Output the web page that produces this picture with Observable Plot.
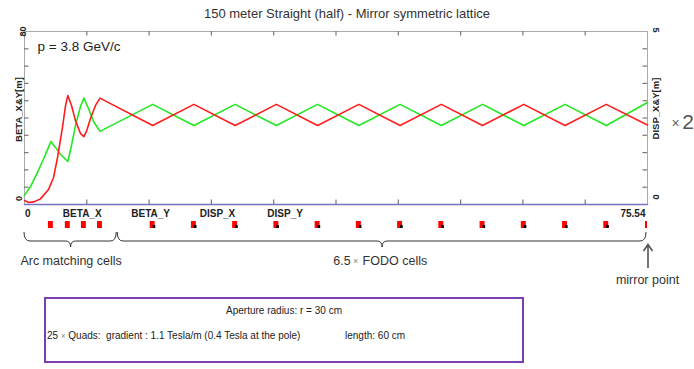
<!DOCTYPE html>
<html><head><meta charset="utf-8">
<script src="https://cdn.jsdelivr.net/npm/d3@7"></script>
<script src="https://cdn.jsdelivr.net/npm/@observablehq/plot@0.6"></script>
<style>
body{margin:0;background:#fff;width:694px;height:369px;position:relative;overflow:hidden;font-family:"Liberation Sans",Arial,sans-serif;}
#title{position:absolute;left:0;top:6px;width:694px;text-align:center;font-size:13px;line-height:16px;color:#333;}
#chart{position:absolute;left:0;top:24px;}
#box{position:absolute;left:44px;top:297px;width:476px;height:62px;border:2px solid #7b3fb2;font-family:"Liberation Sans Narrow","Arial Narrow","Liberation Sans",sans-serif;font-size:11.5px;color:#222;}
#box span.t{position:absolute;white-space:nowrap;line-height:14px;transform:scaleX(0.87);transform-origin:0 0;}
#box span.c{transform-origin:50% 0;}
.sm{color:#888;font-size:9px;}
</style></head>
<body>
<div id="title">150 meter Straight (half) - Mirror symmetric lattice</div>
<div id="chart"></div>
<div id="box">
  <span class="t c" style="left:0;width:476px;text-align:center;top:4px;">Aperture radius: r = 30 cm</span>
  <span class="t" style="left:1px;top:29px;">25 <span class="sm">×</span> Quads:&nbsp; gradient : 1.1 Tesla/m (0.4 Tesla at the pole)</span>
  <span class="t" style="left:299px;top:29px;">length: 60 cm</span>
</div>
<script>
// ---- data ----
const sMax = 75.54;           // lattice length [m]
const betaMax = 80;           // left axis max [m]
const dispMax = 5;            // right axis max [m]
const momentum = "p = 3.8 GeV/c";

// red optics function
const sRed =    [0, 0.49, 1.09, 1.94, 2.91, 3.52, 4.00, 4.61, 4.97, 5.25, 5.70, 6.18, 6.79, 7.20, 7.55, 8.00, 8.61, 9.15,
                 15.54, 20.54, 25.54, 30.54, 35.54, 40.54, 45.54, 50.54, 55.54, 60.54, 65.54, 70.54, 75.54];
const betaRed = [1.85, 0.9, 1.2, 2.6, 6.9, 12.5, 21.7, 35.8, 45.6, 50.4, 45.8, 38.8, 32.8, 31.4, 34.2, 39.8, 45.8, 49.2,
                 36.5, 46.3, 36.5, 46.3, 36.5, 46.3, 36.5, 46.3, 36.5, 46.3, 36.5, 46.3, 36.8];
// green optics function
const sGreen =    [0, 0.73, 1.46, 2.18, 2.79, 3.20, 3.76, 4.37, 5.25, 5.62, 6.18, 6.79, 7.20, 7.76, 8.37, 9.15,
                   15.54, 20.54, 25.54, 30.54, 35.54, 40.54, 45.54, 50.54, 55.54, 60.54, 65.54, 70.54, 75.54];
const betaGreen = [4.2, 8.3, 13.9, 19.9, 25.4, 29.1, 26.4, 23.1, 19.9, 25.9, 36.5, 45.3, 49.2, 44.4, 38.4, 33.8,
                   46.3, 36.5, 46.3, 36.5, 46.3, 36.5, 46.3, 36.5, 46.3, 36.5, 46.3, 36.5, 47.2];
// dispersion (zero along the straight)
const sDisp = [0, sMax];
const dispValues = [0, 0];

// quadrupoles
const arcQuadS = [3.2, 5.25, 7.2, 9.15];
const fodoQuadS = [15.54, 20.54, 25.54, 30.54, 35.54, 40.54, 45.54, 50.54, 55.54, 60.54, 65.54, 70.54, 75.54];
const quadLength = 0.6;

// legend labels under the axis
const legendNames = ["BETA_X", "BETA_Y", "DISP_X", "DISP_Y"];
const legendS = [7.0, 15.3, 23.4, 31.6];

// section braces
const sectionNames = ["Arc matching cells", "6.5", "×", "FODO cells"];
const sectionStart = [0, 11.3];
const sectionEnd = [11.3, sMax];
const mirrorLabel = "mirror point";

const axisTitleLeft = "BETA_X&Y[m]";
const axisTitleRight = "DISP_X&Y[m]";
const scaleNote = ["×", "2"];

// ---- build ----
const red = sRed.map((s, i) => ({s, v: betaRed[i]}));
const green = sGreen.map((s, i) => ({s, v: betaGreen[i]}));
const disp = sDisp.map((s, i) => ({s, v: dispValues[i] * betaMax / dispMax}));
const xTicks = d3.range(1, 10).map(i => i * sMax / 10);
const yTicks = d3.range(1, 10).map(i => i * betaMax / 10);
const tickLenY = betaMax * 0.026;   // inward tick length in y units
const tickLenX = sMax * 0.0072;     // inward tick length in x units
const quads = [
  ...arcQuadS.map(s => ({s, kind: "arc"})),
  ...fodoQuadS.map(s => ({s, kind: s >= sMax ? "half" : "fodo"}))
];
const sections = [0, 1].map(i => ({s0: sectionStart[i], s1: sectionEnd[i], mid: (sectionStart[i] + sectionEnd[i]) / 2}));

function quadMark(index, scales, values, dims) {
  const x = scales.x;
  const yb = dims.height - dims.marginBottom;
  const g = d3.create("svg:g");
  for (const q of quads) {
    const x0 = x(q.s - quadLength / 2), x1 = x(Math.min(q.s + quadLength / 2, sMax));
    const w = q.kind === "half" ? Math.max(2, (x1 - x0) / 2) : x1 - x0;
    const left = q.kind === "half" ? x(sMax) - w : x0;
    g.append("rect").attr("x", left).attr("y", yb + 17).attr("width", w).attr("height", 7).attr("fill", "#ff0000");
    if (q.kind === "fodo") g.append("rect").attr("x", x1 - 2).attr("y", yb + 21).attr("width", 2.6).attr("height", 3).attr("fill", "#000");
  }
  return g.node();
}
function braceMark(index, scales, values, dims) {
  const x = scales.x;
  const yb = dims.height - dims.marginBottom;
  const g = d3.create("svg:g").attr("fill", "none").attr("stroke", "#333").attr("stroke-width", 1);
  const yE = yb + 28, yL = yb + 37, yT = yb + 43;
  for (const sec of sections) {
    const a = x(sec.s0), b = x(sec.s1) - 1, m = x(sec.mid);
    g.append("path").attr("d",
      `M${a},${yE}Q${a},${yL} ${a + 6},${yL}L${m - 5},${yL}Q${m},${yL} ${m},${yT}Q${m},${yL} ${m + 5},${yL}L${b - 6},${yL}Q${b},${yL} ${b},${yE}`);
  }
  // mirror point arrow
  const xa = x(sMax) + 1;
  g.append("path").attr("stroke", "#555").attr("stroke-width", 1.6)
    .attr("d", `M${xa},${yb + 64}L${xa},${yb + 41}M${xa - 4.5},${yb + 47}L${xa},${yb + 40.5}L${xa + 4.5},${yb + 47}`);
  return g.node();
}

const tk = {stroke: "#777", strokeWidth: 1.2};
const chart = Plot.plot({
  width: 694, height: 270,
  marginLeft: 24, marginRight: 47, marginTop: 7, marginBottom: 90,
  style: {background: "transparent", fontFamily: "Liberation Sans, Arial, sans-serif", overflow: "visible", color: "#222"},
  x: {domain: [0, sMax], axis: null},
  y: {domain: [0, betaMax], axis: null},
  marks: [
    Plot.frame({stroke: "#aaa"}),
    // inward ticks on all four sides
    Plot.ruleX(xTicks, {x: d => d, y1: betaMax, y2: betaMax - tickLenY, ...tk}),
    Plot.ruleX(xTicks, {x: d => d, y1: 0, y2: tickLenY, ...tk}),
    Plot.ruleY(yTicks, {y: d => d, x1: 0, x2: tickLenX, ...tk}),
    Plot.ruleY(yTicks, {y: d => d, x1: sMax - tickLenX, x2: sMax, ...tk}),
    Plot.line(disp, {x: "s", y: "v", stroke: "#7573c0", strokeWidth: 1.6}),
    Plot.line(green, {x: "s", y: "v", stroke: "#22e822", strokeWidth: 1.6}),
    Plot.line(red, {x: "s", y: "v", stroke: "#ff1c1c", strokeWidth: 1.6}),
    // axis end labels
    Plot.text([betaMax], {frameAnchor: "top-left", rotate: -90, textAnchor: "middle", lineAnchor: "middle", dx: -1.5, fontWeight: "bold", fontSize: 9}),
    Plot.text([0], {frameAnchor: "bottom-left", rotate: -90, textAnchor: "middle", lineAnchor: "middle", dx: -5, dy: -6, fontWeight: "bold", fontSize: 9}),
    Plot.text([dispMax], {frameAnchor: "top-right", rotate: 90, textAnchor: "middle", lineAnchor: "middle", dx: 8.5, dy: -1.5, fontWeight: "bold", fontSize: 9}),
    Plot.text([0], {frameAnchor: "bottom-right", rotate: 90, textAnchor: "middle", lineAnchor: "middle", dx: 8.5, dy: -7.5, fontWeight: "bold", fontSize: 9}),
    Plot.text([axisTitleLeft], {frameAnchor: "left", rotate: -90, textAnchor: "middle", lineAnchor: "middle", dx: -5.5, dy: -8.5, fontWeight: "bold", fontSize: 9.5}),
    Plot.text([axisTitleRight], {frameAnchor: "right", rotate: -90, textAnchor: "middle", lineAnchor: "middle", dx: 8.5, dy: -9.5, fontWeight: "bold", fontSize: 9.5}),
    Plot.text([scaleNote[0]], {frameAnchor: "right", textAnchor: "middle", lineAnchor: "middle", dx: 28, dy: 6, fontSize: 14, fill: "#666"}),
    Plot.text([scaleNote[1]], {frameAnchor: "right", textAnchor: "middle", lineAnchor: "middle", dx: 40.5, dy: 4.5, fontSize: 21, fill: "#555"}),
    Plot.text([momentum], {frameAnchor: "top-left", textAnchor: "start", lineAnchor: "middle", dx: 13, dy: 15, fontSize: 13.5, fill: "#222"}),
    // labels under the axis
    Plot.text([0], {x: d => d, frameAnchor: "bottom", textAnchor: "start", lineAnchor: "middle", dx: 0.5, dy: 9, fontWeight: "bold", fontSize: 10}),
    Plot.text([sMax], {x: d => d, text: d => d.toFixed(2), frameAnchor: "bottom", textAnchor: "end", lineAnchor: "middle", dx: -2, dy: 9, fontWeight: "bold", fontSize: 10}),
    Plot.text(legendNames, {x: legendS, frameAnchor: "bottom", textAnchor: "middle", lineAnchor: "middle", dy: 9, fontWeight: "bold", fontSize: 10}),
    quadMark,
    braceMark,
    Plot.text([sectionNames[0]], {x: [sections[0].mid], frameAnchor: "bottom", textAnchor: "middle", lineAnchor: "middle", dy: 56, fontSize: 12.5, fill: "#333"}),
    Plot.text([sectionNames[1]], {x: [sections[1].mid], frameAnchor: "bottom", textAnchor: "end", lineAnchor: "middle", dx: -32, dy: 56, fontSize: 12.5, fill: "#333"}),
    Plot.text([sectionNames[2]], {x: [sections[1].mid], frameAnchor: "bottom", textAnchor: "middle", lineAnchor: "middle", dx: -27, dy: 56.5, fontSize: 9, fill: "#888"}),
    Plot.text([sectionNames[3]], {x: [sections[1].mid], frameAnchor: "bottom", textAnchor: "start", lineAnchor: "middle", dx: -20, dy: 56, fontSize: 12.5, fill: "#333"}),
    Plot.text([mirrorLabel], {x: [sMax], frameAnchor: "bottom", textAnchor: "middle", lineAnchor: "middle", dy: 75, fontSize: 12.5, fill: "#333"})
  ]
});
document.getElementById("chart").appendChild(chart);
</script>
</body></html>
